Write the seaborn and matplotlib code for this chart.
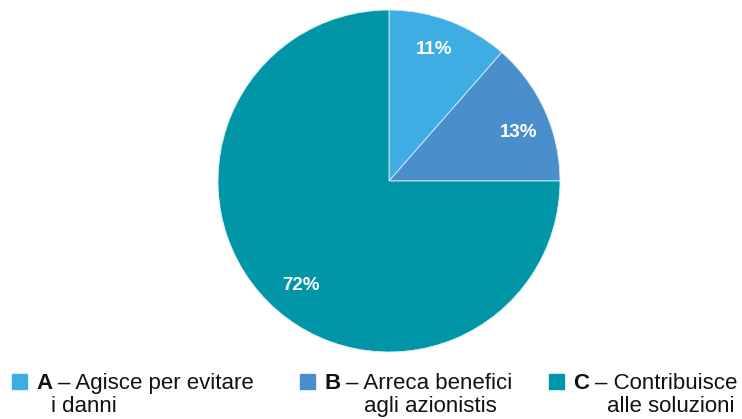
import matplotlib
matplotlib.use("Agg")
import matplotlib.pyplot as plt
import seaborn as sns

# Survey shares per answer
categories = ["A", "B", "C"]
descriptions = [
    ("Agisce per evitare", "i danni"),
    ("Arreca benefici", "agli azionistis"),
    ("Contribuisce", "alle soluzioni"),
]
values = [11, 13, 72]
colors = ["#3EADE3", "#4A8FCC", "#0096A7"]

sns.set_theme(style="white")
plt.rcParams["font.family"] = ["Liberation Sans", "DejaVu Sans"]

W, H = 742, 419
fig = plt.figure(figsize=(W / 100, H / 100), dpi=100)
fig.patch.set_facecolor("white")

# pie axes placed in pixel units: centre (389,181), radius 171
cx, cy, r = 389, 181, 171
ax = fig.add_axes([(cx - r) / W, (H - (cy + r)) / H, 2 * r / W, 2 * r / H])
wedges, _, autotexts = ax.pie(
    values,
    colors=sns.color_palette(colors),
    startangle=90,
    counterclock=False,
    autopct=lambda p: "",
    pctdistance=0.8,
    wedgeprops=dict(linewidth=0.6, edgecolor="#dfeef7"),
)
# small label nudges (axes units) so the percentages sit a bit off-centre
nudges = [(-0.02, 0.02), (0.03, -0.045), (0.05, -0.045)]
for t, v, (dx, dy) in zip(autotexts, values, nudges):
    t.set_text(f"{v}%")
    t.set_color("white")
    t.set_fontweight("bold")
    t.set_fontsize(13.5)
    x, y = t.get_position()
    t.set_position((x + dx, y + dy))
ax.set_xlim(-1, 1)
ax.set_ylim(-1, 1)
ax.set_aspect("equal")
ax.axis("off")

# legend: square swatch, bold letter, two-line description
def px(x, y):
    return x / W, 1 - y / H

swatch_x = [12, 300, 549]
line2_x = [51, 364, 607]
for sx, l2x, cat, (d1, d2), col in zip(swatch_x, line2_x, categories, descriptions, colors):
    fig.patches.append(plt.Rectangle(px(sx, 389), 15 / W, 15 / H,
                                     transform=fig.transFigure, color=col))
    t = fig.text(*px(sx + 24, 389), cat, fontsize=16, fontweight="bold",
                 color="#111111", va="baseline")
    fig.canvas.draw()
    bb = t.get_window_extent()
    fig.text((bb.x1 + 6) / W, 1 - 389 / H, "– " + d1, fontsize=16,
             color="#111111", va="baseline")
    fig.text(*px(l2x, 412), d2, fontsize=16, color="#111111", va="baseline")

fig.savefig("out.png", dpi=100, facecolor="white")
